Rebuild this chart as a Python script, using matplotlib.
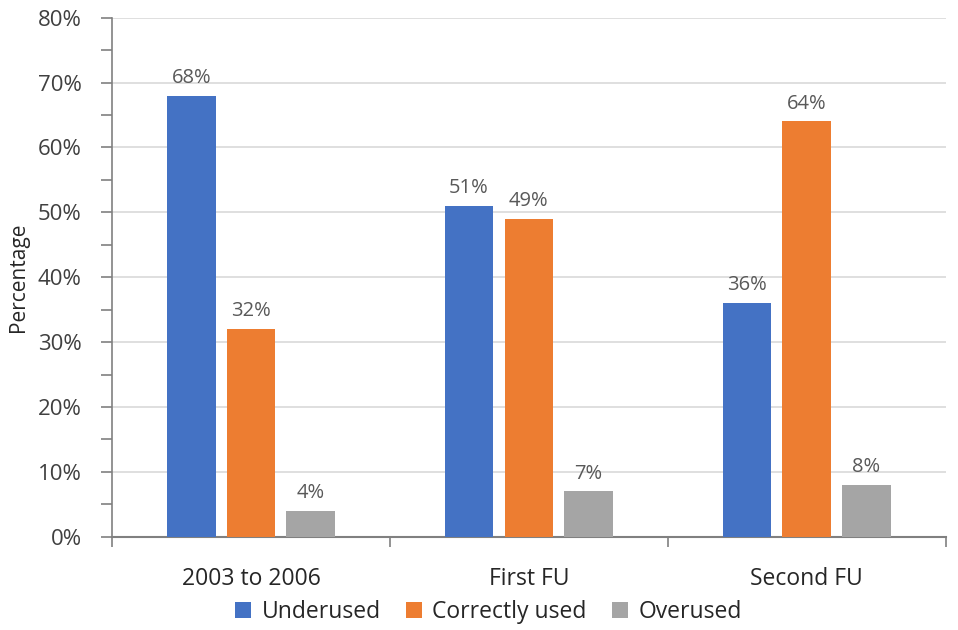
import matplotlib
matplotlib.use("Agg")
import matplotlib.pyplot as plt
import numpy as np
from matplotlib.ticker import MultipleLocator, FuncFormatter

plt.rcParams['font.family'] = ['Open Sans', 'DejaVu Sans']

periods = ["2003 to 2006", "First FU", "Second FU"]
series_names = ["Underused", "Correctly used", "Overused"]
underused = [68, 51, 36]
correctly_used = [32, 49, 64]
overused = [4, 7, 8]
colors = ["#4472C4", "#ED7D31", "#A5A5A5"]

fig = plt.figure(figsize=(9.58, 6.30), dpi=100)
ax = fig.add_axes([0.117, 0.148, 0.870, 0.824])

x = np.arange(len(periods))
width = 0.175
offsets = [-0.215, 0.0, 0.215]
for vals, name, col, off in zip([underused, correctly_used, overused], series_names, colors, offsets):
    bars = ax.bar(x + off, vals, width, color=col, label=name, zorder=3)
    for b, v in zip(bars, vals):
        ax.text(b.get_x() + b.get_width() / 2, v + 1.2, f"{v}%", ha="center", va="bottom",
                fontsize=14.5, color="#595959")

ax.set_xlim(-0.5, 2.5)
ax.set_ylim(0, 80)
ax.yaxis.set_major_locator(MultipleLocator(10))
ax.yaxis.set_minor_locator(MultipleLocator(5))
ax.yaxis.set_major_formatter(FuncFormatter(lambda v, p: f"{v:.0f}%"))
ax.grid(axis="y", which="major", color="#D9D9D9", linewidth=1.2, zorder=0)

ax.set_xticks(x)
ax.set_xticklabels(periods)
ax.set_xticks([-0.5, 0.5, 1.5, 2.5], minor=True)
ax.tick_params(axis="x", which="major", length=0, labelsize=16.5, pad=22, labelcolor="#262626")
ax.tick_params(axis="x", which="minor", length=7, width=1.2, color="#808080", direction="out")
ax.tick_params(axis="y", which="both", length=8, width=1.2, color="#808080", direction="out",
               labelsize=16, labelcolor="#404040", pad=14)

for side in ["top", "right"]:
    ax.spines[side].set_visible(False)
ax.spines["left"].set_color("#808080")
ax.spines["left"].set_linewidth(1.2)
ax.spines["bottom"].set_color("#808080")
ax.spines["bottom"].set_linewidth(1.5)

ax.set_ylabel("Percentage", fontsize=15, color="#262626", labelpad=6)

fig.legend(loc="lower center", bbox_to_anchor=(0.51, -0.024), ncol=3, frameon=False,
           fontsize=16.5, handlelength=0.7, handleheight=0.7, handletextpad=0.45,
           columnspacing=1.1, labelcolor="#262626")

fig.savefig("out.png", dpi=100, facecolor="white")
